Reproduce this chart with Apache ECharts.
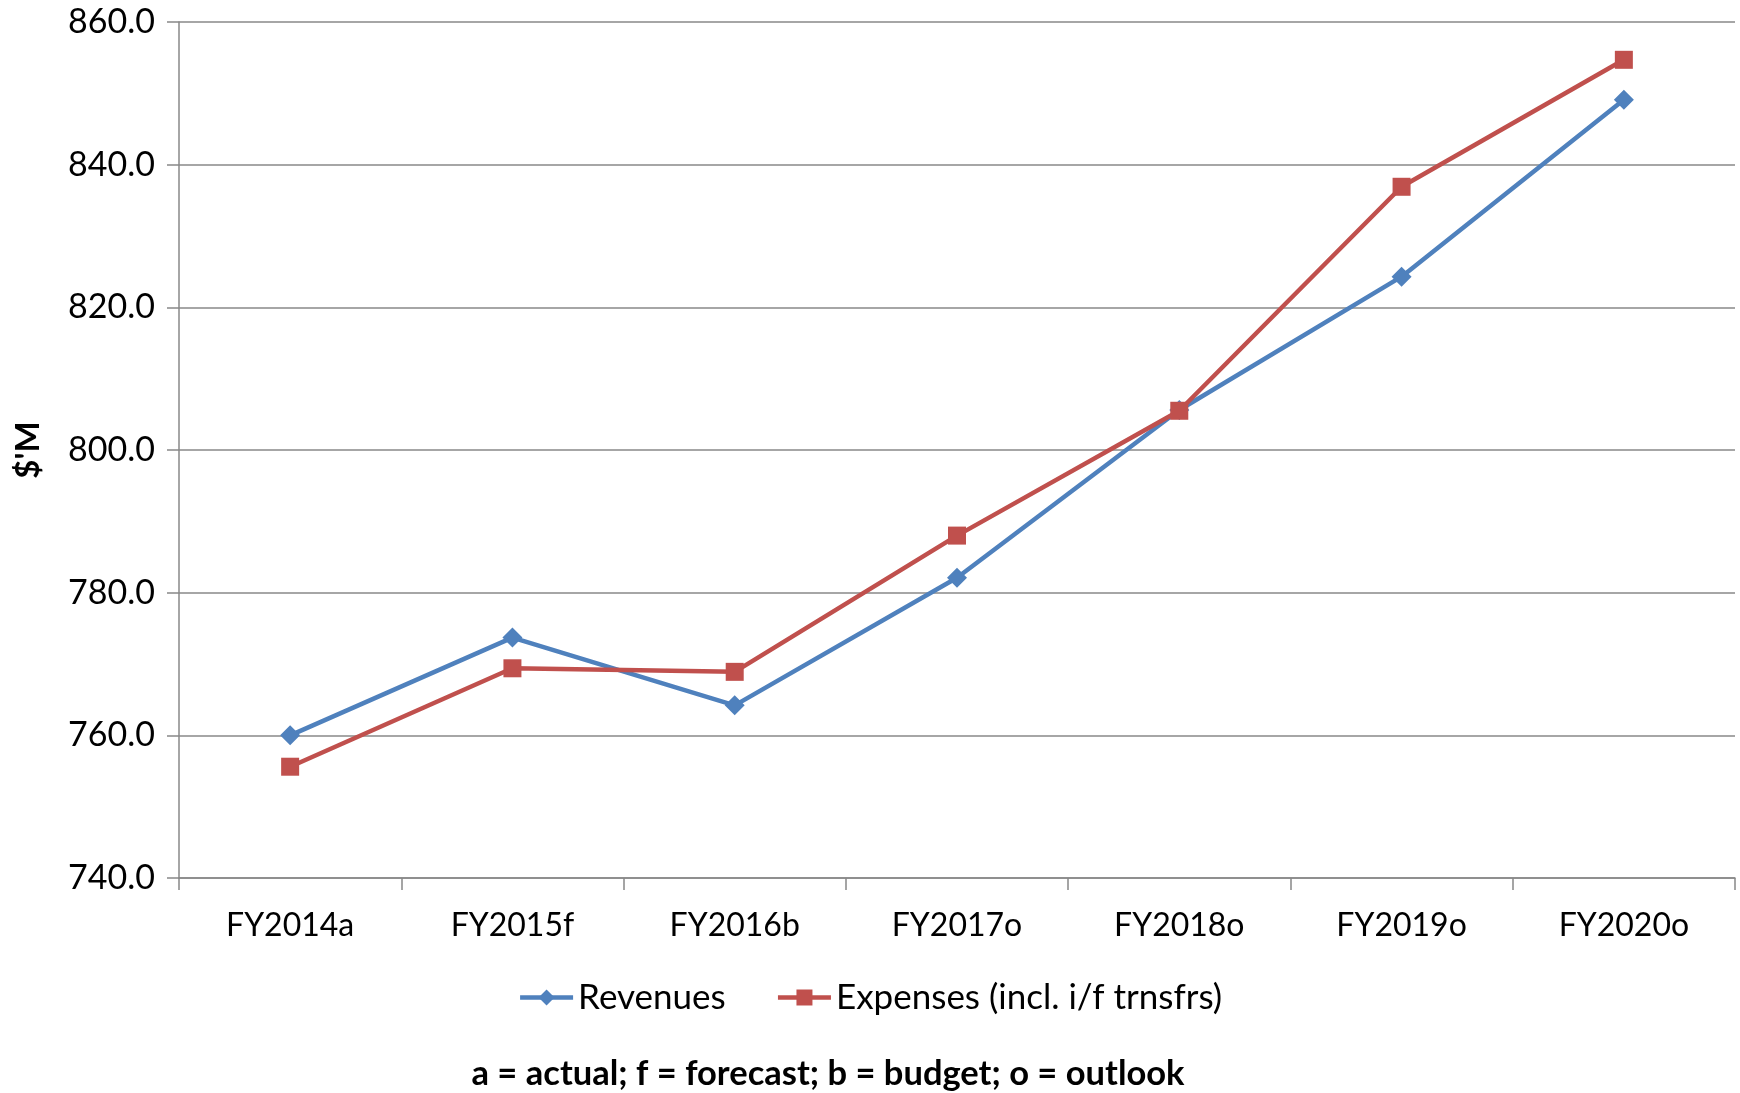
<!DOCTYPE html>
<html>
<head>
<meta charset="utf-8">
<script src="https://cdn.jsdelivr.net/npm/echarts@6/dist/echarts.min.js"></script>
<style>
html,body{margin:0;padding:0;background:#fff;}
#chart{width:1740px;height:1093px;}
</style>
</head>
<body>
<div id="chart"></div>
<script>
const categories = ['FY2014a','FY2015f','FY2016b','FY2017o','FY2018o','FY2019o','FY2020o'];
const revenues = [760.0, 773.7, 764.2, 782.1, 805.6, 824.3, 849.1];
const expenses = [755.6, 769.4, 768.9, 788.0, 805.5, 836.9, 854.7];
const seriesNames = ['Revenues', 'Expenses (incl. i/f trnsfrs)'];
const yAxisTitle = "$'M";
const footnote = 'a = actual; f = forecast; b = budget; o = outlook';

const FONT = 'Lato, "Open Sans", sans-serif';
const BLUE = '#4F81BD', RED = '#C0504D';
const chart = echarts.init(document.getElementById('chart'));
chart.setOption({
  backgroundColor: '#fff',
  animation: false,
  grid: {left: 179, right: 5, top: 22, bottom: 215, containLabel: false},
  xAxis: {
    type: 'category',
    data: categories,
    boundaryGap: true,
    axisLine: {lineStyle: {color: '#888', width: 1.5}},
    axisTick: {show: true, length: 12, alignWithLabel: false, lineStyle: {color: '#888', width: 1.5}},
    axisLabel: {color: '#000', fontSize: 32, fontFamily: FONT, margin: 32}
  },
  yAxis: {
    type: 'value',
    min: 740, max: 860, interval: 20,
    axisLine: {show: true, lineStyle: {color: '#888', width: 1.5}},
    axisTick: {show: true, length: 12, inside: false, lineStyle: {color: '#888', width: 1.5}},
    splitLine: {show: true, lineStyle: {color: '#888', width: 1.5}},
    axisLabel: {color: '#000', fontSize: 34, fontFamily: FONT, margin: 24,
      formatter: v => v.toFixed(1)}
  },
  legend: {
    left: 'center', top: 975,
    itemWidth: 53, itemHeight: 20, itemGap: 50,
    textStyle: {color: '#000', fontSize: 35, fontFamily: FONT},
    data: [
      {name: seriesNames[0], lineStyle: {width: 4.5, color: BLUE}, itemStyle: {color: BLUE}},
      {name: seriesNames[1], lineStyle: {width: 4.5, color: RED}, itemStyle: {color: RED}}
    ]
  },
  graphic: [
    {type: 'text', x: 28, y: 450, rotation: Math.PI/2,
      style: {text: yAxisTitle, fill: '#000', font: 'bold 33px ' + FONT, textAlign: 'center', textVerticalAlign: 'middle'}},
    {type: 'text', x: 828, y: 1074,
      style: {text: footnote, fill: '#000', font: 'bold 34.5px ' + FONT, textAlign: 'center', textVerticalAlign: 'middle'}}
  ],
  series: [
    {name: seriesNames[0], type: 'line', data: revenues,
      symbol: 'diamond', symbolSize: 20, showAllSymbol: true,
      lineStyle: {color: BLUE, width: 4.5},
      itemStyle: {color: BLUE}, z: 2},
    {name: seriesNames[1], type: 'line', data: expenses,
      symbol: 'rect', symbolSize: 18, showAllSymbol: true,
      lineStyle: {color: RED, width: 4.5},
      itemStyle: {color: RED}, z: 3}
  ]
});
</script>
</body>
</html>
